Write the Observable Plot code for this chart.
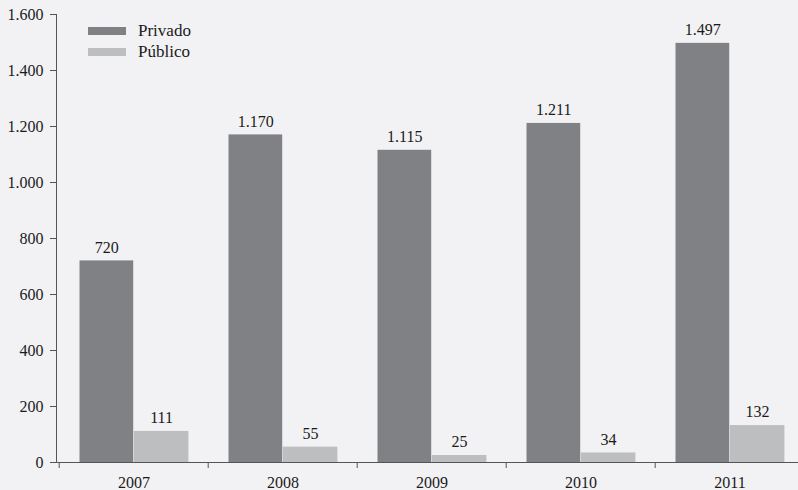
<!DOCTYPE html>
<html>
<head>
<meta charset="utf-8">
<script src="https://cdn.jsdelivr.net/npm/d3@7"></script>
<script src="https://cdn.jsdelivr.net/npm/@observablehq/plot@0.6"></script>
<style>
  html, body { margin: 0; padding: 0; background: #f2f2f4; }
  #wrap { position: relative; width: 798px; height: 490px; font-family: "Liberation Serif", serif; }
  .leg { position: absolute; left: 88px; font-size: 17px; color: #1a1a1a; display: flex; align-items: center; }
  .sw { width: 38px; height: 8px; margin-right: 12px; }
  svg text { font-family: "Liberation Serif", serif; }
</style>
</head>
<body>
<div id="wrap"></div>
<script>
const years = ["2007", "2008", "2009", "2010", "2011"];
const series = ["Privado", "Público"];
const privado = [720, 1170, 1115, 1211, 1497];
const publico = [111, 55, 25, 34, 132];
const yTicks = [0, 200, 400, 600, 800, 1000, 1200, 1400, 1600];
const colors = ["#808184", "#bdbec0"];

const rows = [];
years.forEach((yr, i) => {
  rows.push({year: yr, serie: series[0], value: privado[i]});
  rows.push({year: yr, serie: series[1], value: publico[i]});
});
const priv = rows.filter(d => d.serie === series[0]);
const pub = rows.filter(d => d.serie === series[1]);

const fmt = d3.formatLocale({decimal: ",", thousands: ".", grouping: [3], currency: ["", ""]}).format(",d");
const font = '"Liberation Serif", serif';

const chart = Plot.plot({
  width: 798,
  height: 490,
  marginLeft: 56,
  marginRight: 0,
  marginTop: 14,
  marginBottom: 28,
  style: {background: "#f2f2f4", fontFamily: font, fontSize: "16px", color: "#1a1a1a", overflow: "visible"},
  x: {type: "band", domain: years, range: [57.5, 805.5], padding: 0},
  y: {domain: [0, 1600], label: null},
  marks: [
    Plot.barY(priv, {x: "year", y: "value", fill: colors[0], insetLeft: 20.5, insetRight: 74.8}),
    Plot.barY(pub, {x: "year", y: "value", fill: colors[1], insetLeft: 74.8, insetRight: 19.6}),
    Plot.text(priv, {x: "year", y: "value", text: d => fmt(d.value), dx: -27.2, dy: -13.5, fill: "#1a1a1a", fontSize: 16, lineAnchor: "middle"}),
    Plot.text(pub, {x: "year", y: "value", text: d => fmt(d.value), dx: 27.6, dy: -13.5, fill: "#1a1a1a", fontSize: 16, lineAnchor: "middle"}),
    Plot.ruleY([0], {stroke: "#555"}),
    Plot.axisY({ticks: yTicks, tickFormat: fmt, tickSize: 6, tickPadding: 7, label: null, stroke: "#555", fill: "#1a1a1a", fontSize: 16}),
    Plot.frame({anchor: "left", stroke: "#555"}),
    Plot.axisX({tickSize: 6, text: null, label: null, dx: -74.8, stroke: "#555"}),
    Plot.axisX({tickSize: 0, tickPadding: 14, label: null, fill: "#1a1a1a", fontSize: 16})
  ]
});

const wrap = document.getElementById("wrap");
wrap.appendChild(chart);
[[series[0], colors[0], 21], [series[1], colors[1], 42]].forEach(([name, c, top]) => {
  const d = document.createElement("div");
  d.className = "leg";
  d.style.top = top + "px";
  d.innerHTML = `<span class="sw" style="background:${c}"></span><span>${name}</span>`;
  wrap.appendChild(d);
});
</script>
</body>
</html>
